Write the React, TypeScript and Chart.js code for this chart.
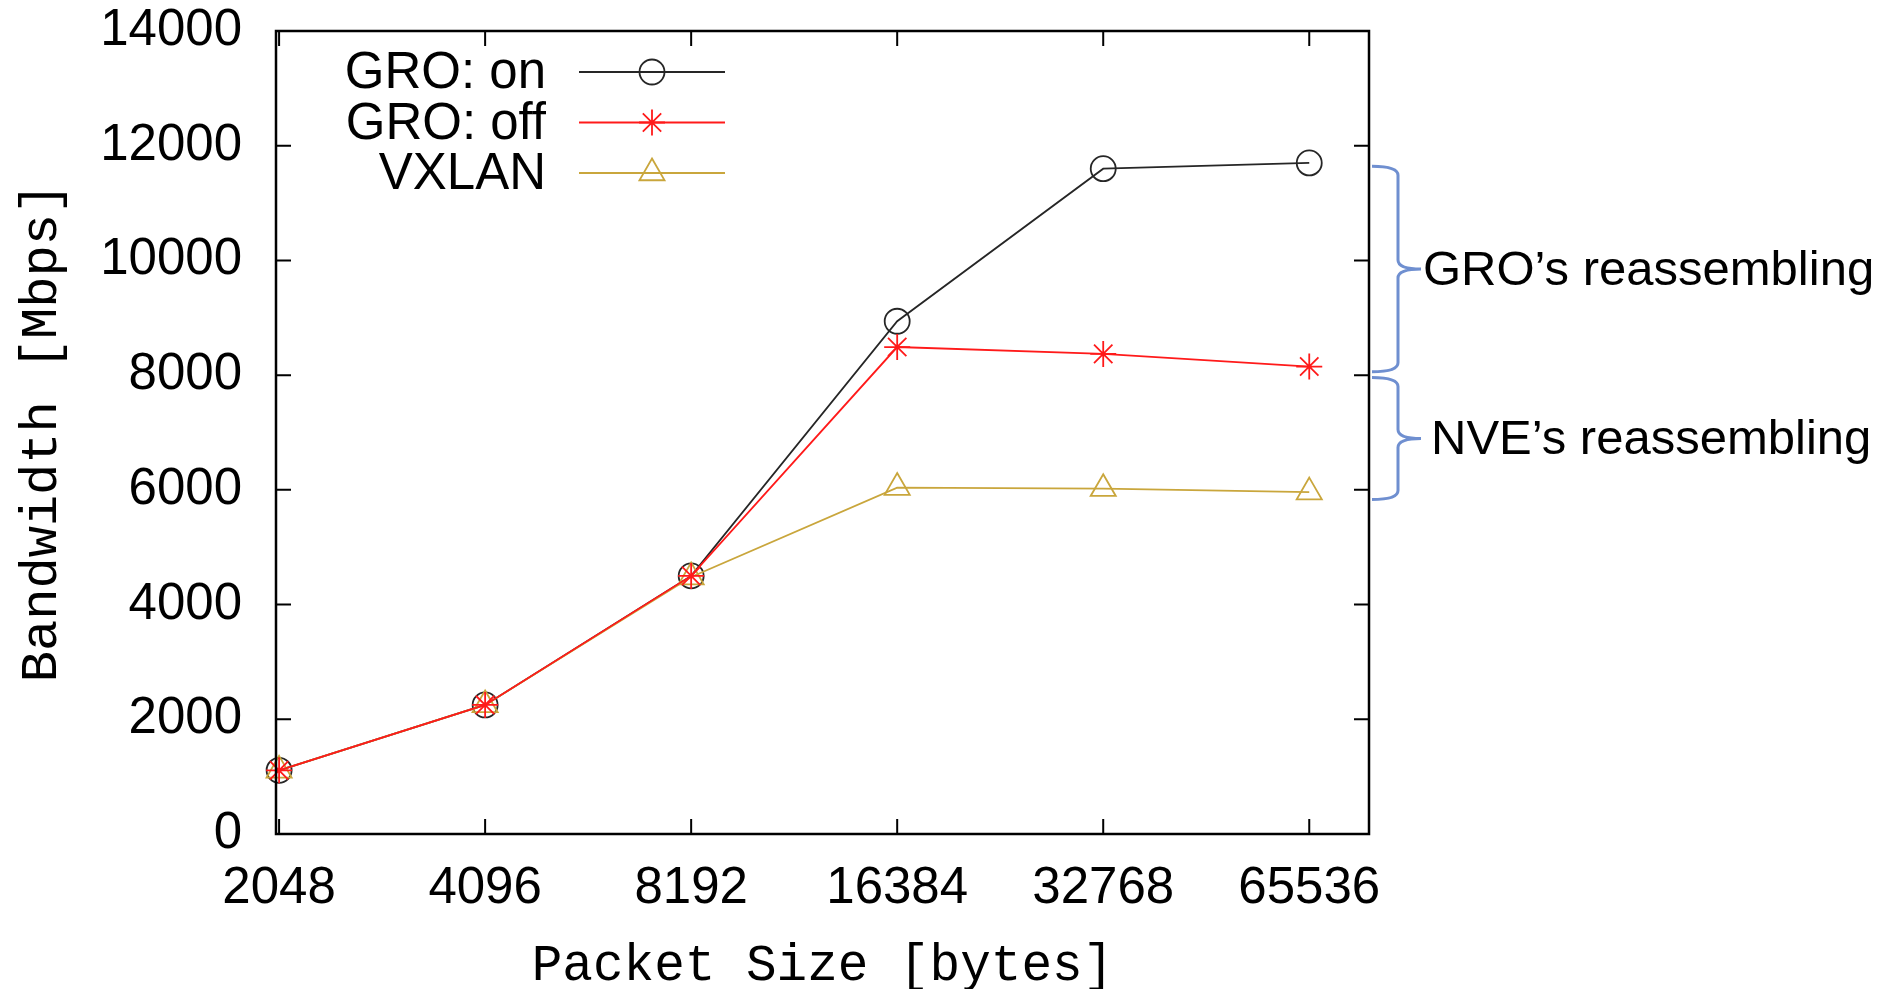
import { useEffect, useRef } from 'react';
import { Chart, registerables } from 'chart.js';

Chart.register(...registerables);

// ---- data ----
const PACKET_SIZES = ['2048', '4096', '8192', '16384', '32768', '65536'];
const SERIES_LABELS = ['GRO: on', 'GRO: off', 'VXLAN'];
const GRO_ON = [1110, 2250, 4500, 8940, 11600, 11700];
const GRO_OFF = [1110, 2250, 4500, 8490, 8370, 8150];
const VXLAN = [1110, 2250, 4480, 6040, 6020, 5960];
const Y_TICKS = [0, 2000, 4000, 6000, 8000, 10000, 12000, 14000];
const BRACE_FROM = [11640, 7960];
const BRACE_TO = [8060, 5830];
const BRACE_TEXT = ['GRO\u2019s reassembling', 'NVE\u2019s reassembling'];

const SANS = '"Liberation Sans", Arial, Helvetica, sans-serif';
const MONO = '"Liberation Mono", "Courier New", monospace';
const COLORS = ['#262626', '#ff1a1a', '#c9a63c'];
const STYLES = ['circle', 'star', 'triangle'];
const RADII = [12.5, 13, 14.5];

function drawMarker(ctx: CanvasRenderingContext2D, style: string, x: number, y: number, r: number) {
  ctx.beginPath();
  if (style === 'circle') {
    ctx.arc(x, y, r, 0, Math.PI * 2);
  } else if (style === 'triangle') {
    for (let k = 0; k < 3; k++) {
      const a = (k * 2 * Math.PI) / 3;
      const px = x + Math.sin(a) * r;
      const py = y - Math.cos(a) * r;
      if (k === 0) ctx.moveTo(px, py);
      else ctx.lineTo(px, py);
    }
    ctx.closePath();
  } else {
    for (let k = 0; k < 4; k++) {
      const a = (k * Math.PI) / 4;
      ctx.moveTo(x - Math.cos(a) * r, y - Math.sin(a) * r);
      ctx.lineTo(x + Math.cos(a) * r, y + Math.sin(a) * r);
    }
  }
  ctx.stroke();
}

const decorPlugin = {
  id: 'decor',
  afterDraw(chart: any) {
    const ctx: CanvasRenderingContext2D = chart.ctx;
    const { left, right, top, bottom } = chart.chartArea;
    const xs = chart.scales.x;
    const ys = chart.scales.y;
    ctx.save();
    // frame
    ctx.strokeStyle = '#000';
    ctx.lineWidth = 2.5;
    ctx.strokeRect(left, top, right - left, bottom - top);
    // inward ticks, mirrored
    ctx.lineWidth = 2;
    const TL = 15;
    ctx.beginPath();
    Y_TICKS.forEach((v) => {
      const py = ys.getPixelForValue(v);
      ctx.moveTo(left, py);
      ctx.lineTo(left + TL, py);
      ctx.moveTo(right, py);
      ctx.lineTo(right - TL, py);
    });
    PACKET_SIZES.forEach((_, i) => {
      const px = xs.getPixelForValue(i);
      ctx.moveTo(px, bottom);
      ctx.lineTo(px, bottom - TL);
      ctx.moveTo(px, top);
      ctx.lineTo(px, top + TL);
    });
    ctx.stroke();

    // legend (inside, top-left, gnuplot style)
    chart.data.datasets.forEach((ds: any, i: number) => {
      const ly = 72 + i * 50.5;
      ctx.fillStyle = '#000';
      ctx.font = `51px ${SANS}`;
      ctx.textAlign = 'right';
      ctx.textBaseline = 'middle';
      ctx.fillText(ds.label, 546, ly + 2);
      ctx.strokeStyle = ds.borderColor;
      ctx.lineWidth = 1.8;
      ctx.beginPath();
      ctx.moveTo(579, ly);
      ctx.lineTo(725, ly);
      ctx.stroke();
      drawMarker(ctx, ds.pointStyle, 652, ly, ds.pointRadius);
    });

    // braces + annotations
    const xL = 1372, xV = 1398, xT = 1421;
    const textX = [1423, 1431];
    BRACE_TEXT.forEach((t, i) => {
      const yTop = ys.getPixelForValue(BRACE_FROM[i]);
      const yBot = ys.getPixelForValue(BRACE_TO[i]);
      const yMid = (yTop + yBot) / 2;
      const r = 9;
      ctx.strokeStyle = '#6f8fd0';
      ctx.lineWidth = 3;
      ctx.beginPath();
      ctx.moveTo(xL, yTop);
      ctx.quadraticCurveTo(xV, yTop, xV, yTop + r);
      ctx.lineTo(xV, yMid - r);
      ctx.quadraticCurveTo(xV, yMid, xT, yMid);
      ctx.moveTo(xT, yMid);
      ctx.quadraticCurveTo(xV, yMid, xV, yMid + r);
      ctx.lineTo(xV, yBot - r);
      ctx.quadraticCurveTo(xV, yBot, xL, yBot);
      ctx.stroke();
      ctx.fillStyle = '#000';
      ctx.font = `49px ${SANS}`;
      ctx.textAlign = 'left';
      ctx.textBaseline = 'middle';
      ctx.fillText(t, textX[i], yMid + 2);
    });
    ctx.restore();
  },
};

const zeroPad = (s: any) => {
  s.paddingTop = 0;
  s.paddingBottom = 0;
  s.paddingLeft = 0;
  s.paddingRight = 0;
};

export default function App() {
  const ref = useRef<HTMLCanvasElement>(null);
  useEffect(() => {
    const canvas = ref.current!;
    const series = [GRO_ON, GRO_OFF, VXLAN];
    const orders = [3, 1, 2];
    const chart = new Chart(canvas, {
      type: 'line',
      data: {
        datasets: series.map((vals, i) => ({
          label: SERIES_LABELS[i],
          data: vals.map((y, k) => ({ x: k, y })),
          borderColor: COLORS[i],
          backgroundColor: 'transparent',
          borderWidth: 1.8,
          pointStyle: STYLES[i] as any,
          pointRadius: RADII[i],
          pointBorderWidth: 1.8,
          pointBorderColor: COLORS[i],
          pointBackgroundColor: 'transparent',
          tension: 0,
          fill: false,
          clip: false as any,
          order: orders[i],
        })),
      },
      options: {
        responsive: false,
        animation: false,
        events: [],
        layout: { padding: { left: 0, top: 31, right: 525, bottom: 0 } },
        plugins: { legend: { display: false }, tooltip: { enabled: false } },
        scales: {
          x: {
            type: 'linear',
            min: -0.015,
            max: 5.29,
            afterFit: (s: any) => {
              s.height = 155;
              zeroPad(s);
            },
            afterBuildTicks: (s: any) => {
              s.ticks = PACKET_SIZES.map((_, i) => ({ value: i }));
            },
            grid: { display: false, drawTicks: false },
            border: { display: false },
            ticks: {
              autoSkip: false,
              maxRotation: 0,
              minRotation: 0,
              padding: 24,
              color: '#000',
              font: { family: SANS, size: 51 },
              callback: (v: any) => PACKET_SIZES[Math.round(Number(v))] ?? '',
            },
            title: {
              display: true,
              text: 'Packet Size [bytes]',
              color: '#000',
              font: { family: MONO, size: 51, lineHeight: 1 },
              padding: { top: 0, bottom: -3 },
            },
          },
          y: {
            type: 'linear',
            min: 0,
            max: 14000,
            afterFit: (s: any) => {
              s.width = 276;
              zeroPad(s);
            },
            afterBuildTicks: (s: any) => {
              s.ticks = Y_TICKS.map((v) => ({ value: v }));
            },
            grid: { display: false, drawTicks: false },
            border: { display: false },
            ticks: {
              padding: 34,
              color: '#000',
              font: { family: SANS, size: 51 },
              callback: (v: any) => String(v),
            },
            title: {
              display: true,
              text: 'Bandwidth [Mbps]',
              color: '#000',
              font: { family: MONO, size: 52, lineHeight: 1 },
              padding: { top: 16, bottom: 0 },
            },
          },
        },
      } as any,
      plugins: [decorPlugin],
    });
    return () => chart.destroy();
  }, []);
  return (
    <div style={{ position: 'fixed', left: 0, top: 0, width: 1894, height: 989, background: '#fff' }}>
      <canvas ref={ref} width={1894} height={989} style={{ display: 'block', width: 1894, height: 989 }} />
    </div>
  );
}
